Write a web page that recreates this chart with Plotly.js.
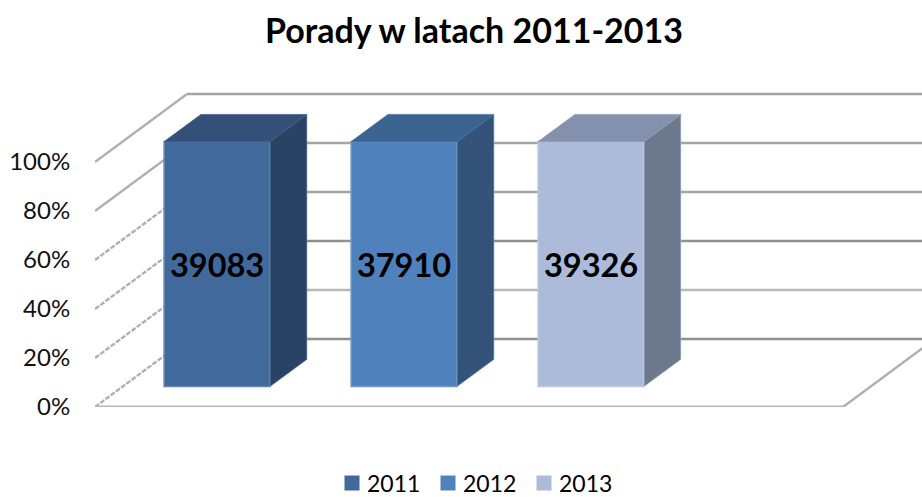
<!DOCTYPE html>
<html>
<head>
<meta charset="utf-8">
<script src="https://cdn.plot.ly/plotly-3.0.1.min.js"></script>
<style>html,body{margin:0;padding:0;background:#fff}</style>
</head>
<body>
<div id="chart" style="width:922px;height:497px"></div>
<script>
const seriesNames = ['2011', '2012', '2013'];
const seriesValues = [39083, 37910, 39326];
const stackedShare = [100, 100, 100];
const percentTicks = [0, 20, 40, 60, 80, 100];
const percentLabels = ['0%', '20%', '40%', '60%', '80%', '100%'];
const slotCount = 4;

const frontColors = ['#41699c', '#4f81bd', '#abbbd9'];
const edgeColors = ['#6485b0', '#7097c9', '#bac8e1'];
const topColors = ['#325078', '#3b6390', '#8391ac'];
const sideColors = ['#2a4364', '#335379', '#6c788c'];
const backGridColors = ['#909090', '#b8b8b8', '#909090', '#a4a4a4', '#a4a4a4', '#a4a4a4'];

const W = 922, H = 497, ml = 95, mb = 90, mt = 80;
const pxPerCat = 187, pxPerPct = 2.45;
const dX = 92 / pxPerCat, dY = 68 / pxPerPct;
const barW = 106 / pxPerCat, d0 = 0.3, d1 = 0.7;
const xMax = (W - ml) / pxPerCat, yMax = (H - mb - mt) / pxPerPct;

const shapes = [];
percentTicks.forEach((t, i) => {
  shapes.push({type:'line', layer:'below', xref:'x', yref:'y', x0:0, y0:t, x1:dX, y1:t + dY,
    line:{color:'#b0b0b0', width:2.4, dash: t <= 60 ? '5px,1.5px' : 'solid'}});
  shapes.push({type:'line', layer:'below', xref:'x', yref:'y', x0:dX, y0:t + dY, x1:xMax, y1:t + dY,
    line:{color:backGridColors[i], width:2.7}});
});
shapes.push({type:'line', layer:'below', xref:'x', yref:'y', x0:0, y0:0, x1:slotCount, y1:0,
  line:{color:'#b8b8b8', width:2.8}});
shapes.push({type:'line', layer:'below', xref:'x', yref:'y', x0:slotCount, y0:0, x1:slotCount + dX, y1:dY,
  line:{color:'#b0b0b0', width:2.4}});

const traces = [];
seriesNames.forEach((name, i) => {
  const c = i + 0.5 + d0 * dX + 1 / pxPerCat;
  const l = c - barW / 2, r = c + barW / 2;
  const base = d0 * dY, top = base + stackedShare[i];
  const ox = (d1 - d0) * dX, oy = (d1 - d0) * dY;
  traces.push({type:'scatter', mode:'lines', fill:'toself', showlegend:false, hoverinfo:'skip',
    x:[r, r + ox, r + ox, r, r], y:[base, base + oy, top + oy, top, base],
    fillcolor:sideColors[i], line:{color:edgeColors[i], width:0.6}});
  traces.push({type:'scatter', mode:'lines', fill:'toself', showlegend:false, hoverinfo:'skip',
    x:[l, l + ox, r + ox, r, l], y:[top, top + oy, top + oy, top, top],
    fillcolor:topColors[i], line:{color:topColors[i], width:0.6}});
  traces.push({type:'bar', name:name, x:[c], y:[stackedShare[i]], base:[base], width:[barW],
    marker:{color:frontColors[i], line:{color:edgeColors[i], width:1.5}},
    text:[String(seriesValues[i])], textposition:'inside', insidetextanchor:'middle',
    textangle:0, constraintext:'none', cliponaxis:false,
    textfont:{family:'Lato, sans-serif', size:32.5, color:'#000', weight:700}});
});

const layout = {
  width:W, height:H, autosize:false,
  paper_bgcolor:'#fff', plot_bgcolor:'rgba(0,0,0,0)',
  margin:{l:ml, r:0, t:mt, b:mb, pad:0},
  title:{text:'<b>Porady w latach 2011-2013</b>', x:474 / W, xanchor:'center', y:1 - 31 / H, yanchor:'middle',
    font:{family:'Lato, sans-serif', size:34, color:'#000'}},
  barmode:'overlay',
  showlegend:true,
  legend:{orientation:'h', xref:'container', yref:'container', x:327 / W, xanchor:'left', y:1 - 483 / H, yanchor:'middle',
    font:{family:'Lato, sans-serif', size:23, color:'#000'}, bgcolor:'rgba(0,0,0,0)',
    entrywidth:51, entrywidthmode:'pixels', tracegroupgap:0, traceorder:'normal'},
  xaxis:{visible:false, range:[0, xMax], fixedrange:true},
  yaxis:{range:[0, yMax], tickvals:percentTicks, ticktext:percentLabels, showgrid:false, zeroline:false,
    showline:false, ticks:'outside', ticklen:16, tickcolor:'rgba(0,0,0,0)', tickwidth:1, ticklabelstandoff:3,
    tickfont:{family:'Lato, sans-serif', size:24, color:'#111'}, fixedrange:true},
  shapes:shapes
};

Plotly.newPlot('chart', traces, layout, {displayModeBar:false}).then(() => {
  document.querySelectorAll('.legend .legendpoints path').forEach(p => {
    p.setAttribute('d', 'M7.5,7.5H-7.5V-7.5H7.5Z');
    p.style.strokeWidth = '0';
  });
  document.querySelectorAll('.legend .legendsymbols').forEach(g => {
    g.setAttribute('transform', 'translate(5,0)');
  });
});
</script>
</body>
</html>
